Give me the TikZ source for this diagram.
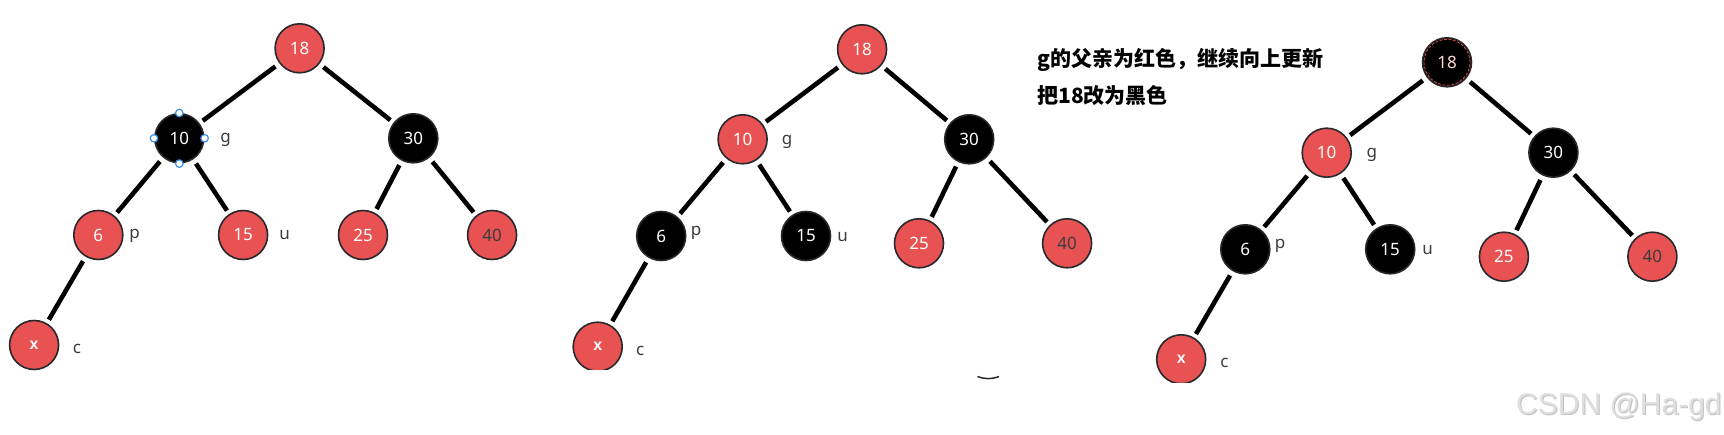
\documentclass[tikz,border=0pt]{standalone}
\usepackage{fontspec}
\setmainfont{Noto Sans}
\newfontfamily\cjk{Noto Sans CJK SC}
\newfontfamily\wmfont{Liberation Sans}
\definecolor{nred}{RGB}{232,82,82}
\definecolor{nline}{RGB}{40,40,45}
\definecolor{labc}{RGB}{60,60,60}
\definecolor{hblue}{RGB}{59,142,234}
\definecolor{pinktxt}{RGB}{255,215,215}
\begin{document}
\begin{tikzpicture}[x=1pt,y=-1pt,
  nd/.style={circle, minimum size=49pt, inner sep=0pt, draw=nline, line width=1.6pt, font=\fontsize{17}{17}\selectfont, text=white},
  rd/.style={nd, fill=nred},
  bk/.style={nd, fill=black},
  xn/.style={rd, font=\wmfont\bfseries\fontsize{16}{16}\selectfont},
  lab/.style={inner sep=0pt, text=labc, font=\fontsize{17}{17}\selectfont},
  ed/.style={line width=4.6pt, shorten >=4pt, shorten <=5pt},
  hd/.style={circle, draw=hblue, fill=white, line width=1.2pt, minimum size=7.5pt, inner sep=0pt},
  note/.style={anchor=west, inner sep=0pt, font=\cjk\bfseries\fontsize{21}{21}\selectfont}
]
\useasboundingbox (0,0) rectangle (1724,435);

% ---------- tree 1 ----------
\node[rd] (a18) at (299.6,48.3) {18};
\node[bk] (a10) at (179.3,138.3) {10};
\node[bk] (a30) at (413.3,138.3) {30};
\node[rd] (a6) at (98.3,235) {6};
\node[rd] (a15) at (243.1,235) {15};
\node[rd] (a25) at (363,235) {25};
\node[rd,text=labc] (a40) at (492.1,235) {40};
\node[xn] (ax) at (34.1,345) {x};
\node[lab] (ag) at (225.5,140) {g};
\node[lab] (ap) at (134.6,236) {p};
\node[lab] (au) at (284.6,235) {u};
\node[lab] (ac) at (77,349) {c};
\draw[ed] (a18) -- (a10);
\draw[ed] (a18) -- (a30);
\draw[ed] (a10) -- (a6);
\draw[ed] (a10) -- (a15);
\draw[ed] (a30) -- (a25);
\draw[ed] (a30) -- (a40);
\draw[ed] (a6) -- (ax);
\node[hd] (h1) at (a10.north) {};
\node[hd] (h2) at (a10.south) {};
\node[hd] (h3) at (a10.west) {};
\node[hd] (h4) at (a10.east) {};

% ---------- tree 2 ----------
\node[rd] (b18) at (862.1,49.3) {18};
\node[rd] (b10) at (742.6,139.3) {10};
\node[bk] (b30) at (969.2,139.3) {30};
\node[bk] (b6) at (661.2,236) {6};
\node[bk] (b15) at (806,236) {15};
\node[rd] (b25) at (919,243.3) {25};
\node[rd,text=labc] (b40) at (1067.1,243.3) {40};
\begin{scope}
\clip (560,300) rectangle (660,370);
\node[xn] (bx) at (597.7,346.7) {x};
\end{scope}
\node[lab] (bg) at (787,141.7) {g};
\node[lab] (bp) at (696,233.3) {p};
\node[lab] (bu) at (842.7,236.7) {u};
\node[lab] (bc) at (640.3,351) {c};
\draw[ed] (b18) -- (b10);
\draw[ed] (b18) -- (b30);
\draw[ed] (b10) -- (b6);
\draw[ed] (b10) -- (b15);
\draw[ed] (b30) -- (b25);
\draw[ed] (b30) -- (b40);
\draw[ed] (b6) -- (bx);
\draw[nline, line width=1.5pt] (977.5,376.5) to[bend right=20] (999,376.5);

% ---------- note ----------
\node[note] (t1) at (1037,60) {g的父亲为红色，继续向上更新};
\node[note] (t2) at (1037,95) {把18改为黑色};

% ---------- tree 3 ----------
\node[bk, text=pinktxt, font=\bfseries\fontsize{17}{17}\selectfont] (c18) at (1447,62.3) {18};
\draw[nred, line width=0.7pt, dash pattern=on 3pt off 1.5pt] (c18.center) circle (23pt);
\node[rd] (c10) at (1326.7,152.7) {10};
\node[bk] (c30) at (1553.4,152.7) {30};
\node[bk] (c6) at (1245.3,249.3) {6};
\node[bk] (c15) at (1390.2,249.3) {15};
\node[rd] (c25) at (1503.9,256.7) {25};
\node[rd,text=labc] (c40) at (1652.4,256.7) {40};
\begin{scope}
\clip (1140,320) rectangle (1230,382.7);
\node[xn] (cx) at (1181.2,359.3) {x};
\end{scope}
\node[lab] (cg) at (1371.9,155) {g};
\node[lab] (cp) at (1280.2,246) {p};
\node[lab] (cu) at (1427.6,250) {u};
\node[lab] (cc) at (1224.4,363.3) {c};
\draw[ed] (c18) -- (c10);
\draw[ed] (c18) -- (c30);
\draw[ed] (c10) -- (c6);
\draw[ed] (c10) -- (c15);
\draw[ed] (c30) -- (c25);
\draw[ed] (c30) -- (c40);
\draw[ed] (c6) -- (cx);

% ---------- watermark ----------
\node[anchor=west, inner sep=0pt, text=black!24, font=\wmfont\fontsize{30}{30}\selectfont] (wm2) at (1517,408) {CSDN @Ha-gd};
\node[anchor=west, inner sep=0pt, text=black!13, font=\wmfont\fontsize{30}{30}\selectfont] (wm) at (1516,407) {CSDN @Ha-gd};
\end{tikzpicture}
\end{document}
